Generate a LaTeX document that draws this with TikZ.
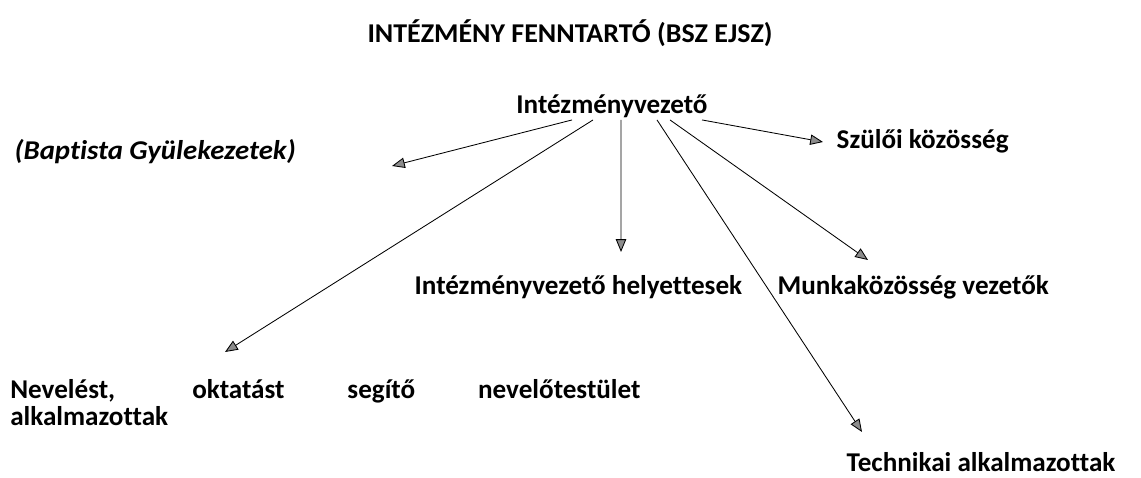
\documentclass[tikz,border=0pt]{standalone}
\usepackage{fontspec}
\setmainfont{Carlito}[Ligatures=NoCommon]
\usetikzlibrary{arrows.meta}
\tikzset{
    lbl/.style={font=\fontsize{19.3}{19.3}\selectfont\bfseries, inner sep=1pt},
    arr/.style={-{Triangle[length=3.2mm, width=2.6mm, fill=black!45]}, line width=0.6pt}
}
\begin{document}
\begin{tikzpicture}[x=0.025cm, y=-0.025cm]
                    \useasboundingbox (0,0) rectangle (1141,478);

                    % Title and head
                    \node[lbl, anchor=base] (title) at (570,43) {\scalebox{1.03}[1]{INTÉZMÉNY FENNTARTÓ (BSZ EJSZ)}};
                    \node[lbl, anchor=base] (head) at (612,114) {Intézményvezető};

                    % Upper row
                    \node[lbl, anchor=base west, font=\fontsize{19.3}{19.3}\selectfont\bfseries\itshape] (baptista) at (13,160) {\scalebox{1.06}[1]{(Baptista Gyülekezetek)}};
                    \node[lbl, anchor=base west] (szuloi) at (835,149) {Szülői közösség};

                    % Middle row
                    \node[lbl, anchor=base west] (helyettes) at (413,294) {Intézményvezető helyettesek};
                    \node[lbl, anchor=base west] (munkak) at (776,294) {Munkaközösség vezetők};

                    % Lower rows
                    \node[lbl, anchor=north west, align=left, inner sep=0pt] (neveles) at (10,379)
                        {\makebox[15.75cm][s]{Nevelést, oktatást segítő nevelőtestület}\\alkalmazottak};
                    \node[lbl, anchor=base west] (technikai) at (845,471) {Technikai alkalmazottak};

                    % Arrow tips
                    \coordinate (tipBap) at (392,166);
                    \coordinate (tipNev) at (225,352);
                    \coordinate (tipHely) at (621,252);
                    \coordinate (tipTech) at (862,432);
                    \coordinate (tipMunk) at (868,260);
                    \coordinate (tipSzul) at (823,142);

                    % Connectors
                    \draw[arr] ([xshift=-1cm]head.south) -- (tipBap);
                    \draw[arr] ([xshift=-0.475cm]head.south) -- (tipNev);
                    \draw[arr] ([xshift=0.225cm]head.south) -- (tipHely);
                    \draw[arr] ([xshift=1.125cm]head.south) -- (tipTech);
                    \draw[arr] ([xshift=1.45cm]head.south) -- (tipMunk);
                    \draw[arr] ([xshift=2.25cm]head.south) -- (tipSzul);
                \end{tikzpicture}
\end{document}
